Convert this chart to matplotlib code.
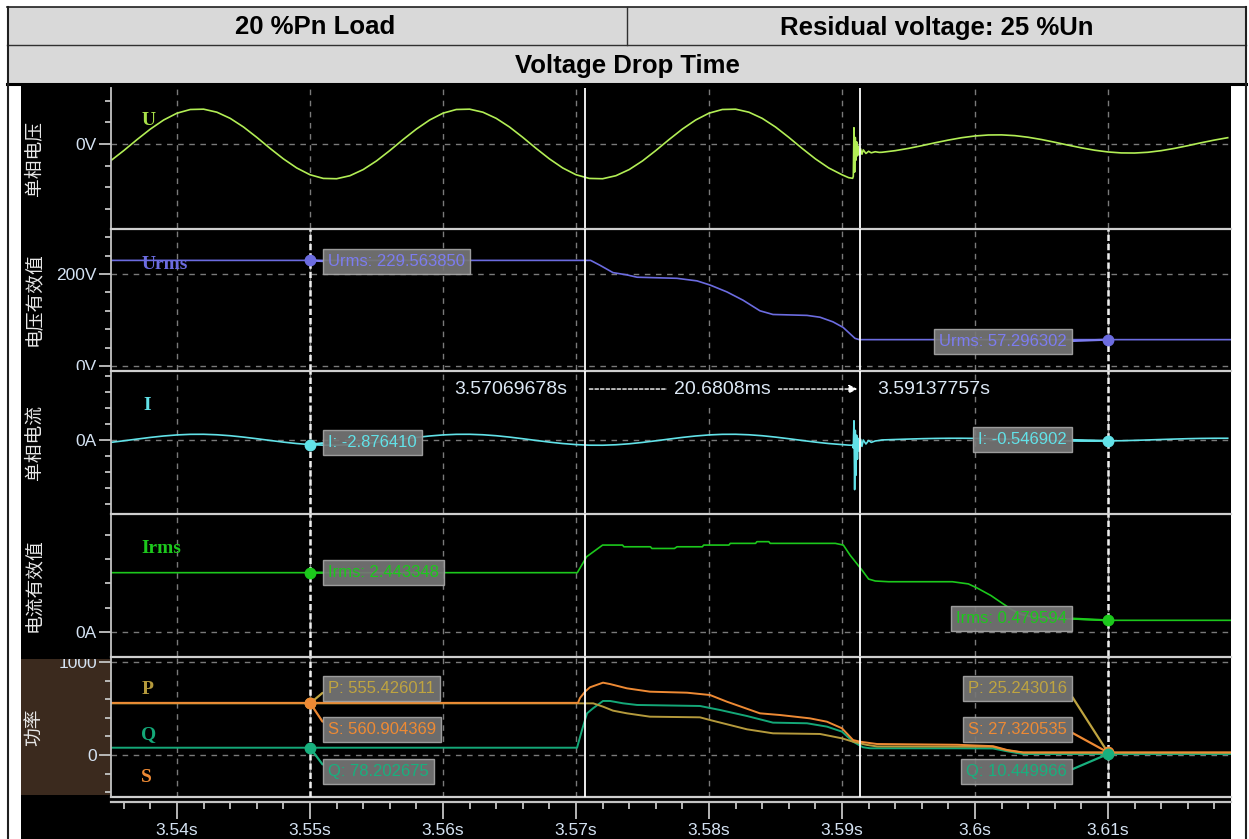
import matplotlib
matplotlib.use("Agg")
import matplotlib.pyplot as plt
import numpy as np
from matplotlib.patches import Rectangle
from matplotlib.lines import Line2D

plt.rcParams['font.family'] = ['Liberation Sans', 'Noto Sans CJK SC', 'DejaVu Sans']

# ---------------- data ----------------
X_TICKS = [3.54, 3.55, 3.56, 3.57, 3.58, 3.59, 3.60, 3.61]
CURSOR_A, CURSOR_B = 3.57069678, 3.59137757
DELTA_TXT = '20.6808ms'
MARK_T = [3.55, 3.61]

# U (V): sampled every 1 ms before and after the drop, transient in between
U_T0, U_DT = 3.535, 0.001
U_PRE = [-157, -61, 41, 138, 222, 285, 319, 322, 294, 237, 157, 61, -41, -138, -222, -285, -319, -322, -294, -237,
         -157, -61, 41, 138, 222, 285, 319, 322, 294, 237, 157, 61, -41, -138, -222, -285, -319, -322, -294, -237,
         -157, -61, 41, 138, 222, 285, 319, 322, 294, 237, 157, 61, -41, -138, -222, -285]
U_TR_T = [3.5905, 3.5908, 3.59085, 3.5909, 3.59095, 3.5910, 3.59105, 3.5911, 3.59116, 3.59122,
          3.5913, 3.5914, 3.5915, 3.5916, 3.5918, 3.5920, 3.5922, 3.5925, 3.5928]
U_TR_V = [-312, -318, -300, 150, -260, 60, -150, 20, -110, -20, -100, -45, -95, -55, -88, -68, -82, -72, -78]
U_POST_T0 = 3.593
U_POST = [-77, -62, -41, -16, 11, 36, 58, 74, 83, 84, 77, 62, 41, 16, -11, -36, -58, -74, -83, -84,
          -77, -62, -41, -16, 11, 36, 58]

# I (A)
I_PRE = [-1.51, -0.50, 0.58, 1.62, 2.51, 3.17, 3.54, 3.57, 3.27, 2.67, 1.81, 0.80, -0.28, -1.32, -2.21, -2.87, -3.24, -3.27, -2.97, -2.37,
         -1.51, -0.50, 0.58, 1.62, 2.51, 3.17, 3.54, 3.57, 3.27, 2.67, 1.81, 0.80, -0.28, -1.32, -2.21, -2.87, -3.24, -3.27, -2.97, -2.37,
         -1.51, -0.50, 0.58, 1.62, 2.51, 3.17, 3.54, 3.57, 3.27, 2.67, 1.81, 0.80, -0.28, -1.32, -2.21, -2.87]
I_TR_V = [-3.2, -3.3, -5, 12, -31, 6, -22, 3, -12, 1, -7, 0.5, -4, 0, -2.5, -0.3, -1.5, -0.6, -0.3]
I_POST = [0.03, 0.31, 0.58, 0.82, 0.99, 1.08, 1.09, 1.01, 0.86, 0.63, 0.37, 0.09, -0.18, -0.42, -0.59, -0.68,
          -0.69, -0.55, -0.46, -0.23, 0.03, 0.31, 0.58, 0.82, 0.99, 1.08, 1.09]

# Urms (V)
URMS_T = [3.535, 3.5711, 3.5718, 3.57278, 3.57383, 3.57459, 3.57759, 3.5791, 3.58008, 3.58135, 3.58256,
          3.58383, 3.58481, 3.58737, 3.58835, 3.58932, 3.59008, 3.59098, 3.5913, 3.6192]
URMS_V = [229.56, 229.56, 219, 203, 198, 193, 190.6, 185, 176, 161, 143, 120, 112, 110, 106, 96, 84, 60, 57.3, 57.3]

# Irms (A)
IRMS_T = [3.535, 3.5701, 3.5708, 3.5713, 3.5720, 3.5735, 3.5736, 3.5756, 3.5757, 3.5774, 3.5776, 3.5795,
          3.5796, 3.5815, 3.5816, 3.5835, 3.5836, 3.5845, 3.5846, 3.5895, 3.5901, 3.5906, 3.5915, 3.5920,
          3.5925, 3.5935, 3.5983, 3.5995, 3.6002, 3.6012, 3.6020, 3.6028, 3.6035, 3.6043, 3.6060, 3.6080,
          3.6100, 3.6192]
IRMS_V = [2.443, 2.443, 3.10, 3.30, 3.58, 3.58, 3.51, 3.51, 3.44, 3.44, 3.51, 3.51,
          3.58, 3.58, 3.65, 3.65, 3.72, 3.72, 3.65, 3.65, 3.58, 3.17, 2.55, 2.18,
          2.10, 2.07, 2.07, 1.98, 1.80, 1.50, 1.20, 0.91, 0.72, 0.62, 0.56, 0.52,
          0.48, 0.48]

# power
S_T = [3.535, 3.57015, 3.5703, 3.57068, 3.57105, 3.57203, 3.57256, 3.57383, 3.57556, 3.57835, 3.58008,
       3.58135, 3.58383, 3.58534, 3.58759, 3.58887, 3.59, 3.59083, 3.59135, 3.59263, 3.59865, 3.60135,
       3.60241, 3.60361, 3.6192]
S_V = [560.9, 560.9, 613, 681, 728, 778, 763, 717, 681, 670, 645, 573, 448, 430, 394, 358, 287, 161, 143,
       118, 110, 95, 54, 27.3, 27.3]
P_T = [3.535, 3.5713, 3.57203, 3.57278, 3.57383, 3.57556, 3.57932, 3.58008, 3.58286, 3.58481, 3.58835,
       3.59, 3.59083, 3.59188, 3.59263, 3.59865, 3.60135, 3.60241, 3.60361, 3.6192]
P_V = [555.4, 555.4, 520, 477, 448, 412, 405, 376, 276, 233, 226, 179, 143, 108, 92, 90, 88, 50, 25.2, 25.2]
Q_T = [3.535, 3.57008, 3.57045, 3.57083, 3.57128, 3.57203, 3.57256, 3.57353, 3.57459, 3.57932, 3.58083,
       3.58286, 3.58481, 3.58737, 3.58887, 3.59, 3.59083, 3.59158, 3.59211, 3.59865, 3.60135, 3.60241,
       3.60361, 3.6192]
Q_V = [78.2, 78.2, 269, 448, 502, 581, 581, 556, 538, 527, 484, 419, 348, 341, 305, 251, 143, 83, 72, 72,
       70, 40, 10.4, 10.4]

# cursor readouts
URMS_MARK = [229.563850, 57.296302]
I_MARK = [-2.876410, -0.546902]
IRMS_MARK = [2.443348, 0.479594]
P_MARK = [555.426011, 25.243016]
S_MARK = [560.904369, 27.320535]
Q_MARK = [78.202675, 10.449966]

# ---------------- figure ----------------
W, H = 1249, 839
fig = plt.figure(figsize=(W / 100, H / 100), dpi=100)
fig.patch.set_facecolor('white')


def fx(x):
    return x / W


def fy(y):
    return 1 - y / H


def rect_px(x0, y0, x1, y1, **kw):
    r = Rectangle((fx(x0), fy(y1)), fx(x1) - fx(x0), fy(y0) - fy(y1), transform=fig.transFigure,
                  zorder=-5, **kw)
    fig.patches.append(r)
    return r


def line_px(xs, ys, **kw):
    fig.add_artist(Line2D([fx(x) for x in xs], [fy(y) for y in ys], transform=fig.transFigure, **kw))


# header table
rect_px(7, 7, 1246, 84, fc='#d9d9d9', ec='none')
line_px([7, 1246], [7, 7], color='#202020', lw=1.2)
line_px([7, 1246], [44.5, 44.5], color='#303030', lw=1)
line_px([627, 627], [7, 44.5], color='#303030', lw=1)
line_px([7, 1246], [84, 84], color='black', lw=2.2)
line_px([7.5, 7.5], [7, 839], color='#202020', lw=1.5)
line_px([1245.5, 1245.5], [7, 839], color='#202020', lw=1.5)
hdr = dict(ha='center', va='center', fontsize=18.5, weight='bold', color='black')
fig.text(fx(315), fy(27.5), '20 %Pn Load', **hdr)
fig.text(fx(937), fy(27.5), 'Residual voltage: 25 %Un', **hdr)
fig.text(fx(627), fy(65.5), 'Voltage Drop Time', **hdr)

# screen area
rect_px(21, 86, 1231, 839, fc='black', ec='none')
rect_px(21, 659, 111, 795, fc='#3b2a1e', ec='none')

PANELS = [(88, 228), (229, 370), (371, 513), (514, 656), (657, 797)]
YLIMS = [(-778, 518), (-8.7, 297.8), (-45.6, 43.1), (-0.99, 4.86), (-452, 1054)]
YMAJ = [[0], [0, 200], [0], [0], [0, 1000]]
YLAB = [['0V'], ['0V', '200V'], ['0A'], ['0A'], ['0', '1000']]
YMIN = [[-600, -400, -200, 200, 400], [40, 80, 120, 160, 240, 280], [-40, -30, -20, -10, 10, 20, 30, 40],
        [1, 2, 3, 4], [-400, -200, 200, 400, 600, 800]]
NAMES_CN = ['单相电压', '电压有效值', '单相电流', '电流有效值', '功率']

SPINE = '#c4c4c4'
TICKTXT = '#d4e2f2'
GRID = '#7a7a7a'
C_U, C_URMS, C_I, C_IRMS = '#b2ee55', '#6c6ce0', '#62e2e8', '#1cc81c'
C_P, C_S, C_Q = '#b59a3c', '#ee8a34', '#14a878'

axes = []
for k, (top, bot) in enumerate(PANELS):
    ax = fig.add_axes([fx(111), fy(bot), fx(1231) - fx(111), fy(top) - fy(bot)])
    ax.set_facecolor('black')
    ax.set_xlim(3.5350376, 3.619248)
    ax.set_ylim(*YLIMS[k])
    ax.set_xticks(X_TICKS)
    ax.set_xticks(np.arange(3.536, 3.6195, 0.002), minor=True)
    ax.set_yticks(YMAJ[k])
    ax.set_yticklabels(YLAB[k])
    ax.set_yticks(YMIN[k], minor=True)
    ax.grid(axis='both', which='major', color=GRID, ls=(0, (4, 4)), lw=1)
    ax.tick_params(axis='y', which='major', length=8.6, width=1.3, color=SPINE,
                   labelcolor=TICKTXT, labelsize=12.5, pad=1.5)
    ax.tick_params(axis='y', which='minor', length=4.3, width=1.3, color=SPINE)
    for s in ['right', 'bottom', 'top']:
        ax.spines[s].set_visible(False)
    ax.spines['left'].set_color(SPINE)
    ax.spines['left'].set_linewidth(1.3)
    if k > 0:
        ax.spines['top'].set_visible(True)
        ax.spines['top'].set_color('#cfcfcf')
        ax.spines['top'].set_linewidth(1.6)
    # tick labels cut at the panel edges like on the recorder
    ctop = 659 if k == 4 else top
    clip = Rectangle((fx(21), fy(bot)), fx(111) - fx(21), fy(ctop) - fy(bot), transform=fig.transFigure)
    for tk in ax.yaxis.get_major_ticks():
        tk.label1.set_clip_path(clip)
    ax.text(-0.0686, 0.5, NAMES_CN[k], transform=ax.transAxes, rotation=90, ha='center', va='center',
            fontsize=13.5, color='#e8e8e8', family=['Noto Sans CJK SC', 'DejaVu Sans'])
    if k < 4:
        ax.tick_params(axis='x', which='both', bottom=False, labelbottom=False)
    axes.append(ax)

ax1, ax2, ax3, ax4, ax5 = axes

# x axis on the power panel
ax5.spines['bottom'].set_visible(True)
ax5.spines['bottom'].set_position(('outward', 3.6))
ax5.spines['bottom'].set_color(SPINE)
ax5.spines['bottom'].set_linewidth(1.6)
ax5.plot([0, 1], [0, 0], transform=ax5.transAxes, color='#cfcfcf', lw=1.6, clip_on=False)
ax5.set_xticklabels([f'{t:g}s' for t in X_TICKS])
ax5.tick_params(axis='x', which='major', length=12, width=1.3, color=SPINE, labelcolor=TICKTXT,
                labelsize=12.5, pad=3)
ax5.tick_params(axis='x', which='minor', length=5, width=1.3, color=SPINE)

# traces
t_pre = U_T0 + U_DT * np.arange(len(U_PRE))
t_post = U_POST_T0 + U_DT * np.arange(len(U_POST))
t_u = np.concatenate([t_pre, U_TR_T, t_post])
ax1.plot(t_u, np.concatenate([U_PRE, U_TR_V, U_POST]), color=C_U, lw=1.2)
ax2.plot(URMS_T, URMS_V, color=C_URMS, lw=1.2)
ax3.plot(t_u, np.concatenate([I_PRE, I_TR_V, I_POST]), color=C_I, lw=1.2)
ax4.plot(IRMS_T, IRMS_V, color=C_IRMS, lw=1.2)
ax5.plot(Q_T, Q_V, color=C_Q, lw=1.4)
ax5.plot(P_T, P_V, color=C_P, lw=1.4)
ax5.plot(S_T, S_V, color=C_S, lw=1.4)

# trace names
name_kw = dict(fontsize=14, weight='bold', family='Liberation Serif', va='center', ha='left')
ax1.text(0.027, 0.77, 'U', transform=ax1.transAxes, color='#a8e048', **name_kw)
ax2.text(0.027, 0.75, 'Urms', transform=ax2.transAxes, color=C_URMS, **name_kw)
ax3.text(0.029, 0.76, 'I', transform=ax3.transAxes, color=C_I, **name_kw)
ax4.text(0.027, 0.76, 'Irms', transform=ax4.transAxes, color=C_IRMS, **name_kw)
ax5.text(0.027, 0.771, 'P', transform=ax5.transAxes, color=C_P, **name_kw)
ax5.text(0.027, 0.443, 'Q', transform=ax5.transAxes, color=C_Q, **name_kw)
ax5.text(0.027, 0.136, 'S', transform=ax5.transAxes, color=C_S, **name_kw)

# cursors
for ax in axes:
    ax.axvline(CURSOR_A, color='white', lw=1.3, zorder=4)
    ax.axvline(CURSOR_B, color='white', lw=1.3, zorder=4)
for ax in axes[1:]:
    for t in MARK_T:
        ax.axvline(t, color='#eeeeee', lw=1.8, ls=(0, (2.5, 1.2)), zorder=3)

# cursor readout boxes
BOX = dict(boxstyle='square,pad=0.3', fc='#767676', ec='#a6a6a6', lw=1, alpha=0.92)


def readout(ax, name, vals, col, dys_left, dys_right, mcol=None):
    for i, (t, v) in enumerate(zip(MARK_T, vals)):
        if i == 0:
            dx, dy, ha, rel = 18, dys_left, 'left', (0, 0.5)
        else:
            dx, dy, ha, rel = -41, dys_right, 'right', (1, 0.5)
        ax.annotate(f'{name}: {v:.6f}', xy=(t, v), xytext=(dx, dy), textcoords='offset pixels',
                    ha=ha, va='center', fontsize=12, color=col, bbox=BOX, zorder=6,
                    arrowprops=dict(arrowstyle='-', color=col, lw=1.6, shrinkA=0, shrinkB=0, relpos=rel))
        ax.plot(t, v, 'o', ms=7.5, color=mcol or col, zorder=7)


readout(ax2, 'Urms', URMS_MARK, '#7c7cf0', -1, -1.5, C_URMS)
readout(ax3, 'I', I_MARK, C_I, 2, 1)
readout(ax4, 'Irms', IRMS_MARK, C_IRMS, 0, 2)
readout(ax5, 'P', P_MARK, '#bfa440', 15, 64)
readout(ax5, 'S', S_MARK, C_S, -27, 22.5)
readout(ax5, 'Q', Q_MARK, '#18b07e', -24, -17.5)

# time difference between the two cursors
yf = 0.873
mixed = ('data', 'axes fraction')
ctext = dict(fontsize=14, color='#dce8f5', va='center')
ax3.annotate('', xy=(CURSOR_B, yf), xytext=(CURSOR_A, yf), xycoords=mixed,
             arrowprops=dict(arrowstyle='-|>,head_length=0.5,head_width=0.25', color='white', lw=1,
                             linestyle=(0, (2.5, 1.5)), shrinkA=3, shrinkB=2))
ax3.annotate(f'{CURSOR_A:.8f}s', xy=(CURSOR_A, yf), xycoords=mixed, xytext=(-18, 0),
             textcoords='offset pixels', ha='right', **ctext)
ax3.annotate(f'{CURSOR_B:.8f}s', xy=(CURSOR_B, yf), xycoords=mixed, xytext=(17, 0),
             textcoords='offset pixels', ha='left', **ctext)
ax3.annotate(DELTA_TXT, xy=((CURSOR_A + CURSOR_B) / 2, yf), xycoords=mixed, ha='center',
             bbox=dict(fc='black', ec='none', pad=5), **ctext)

fig.savefig('out.png', dpi=100, facecolor='white')
